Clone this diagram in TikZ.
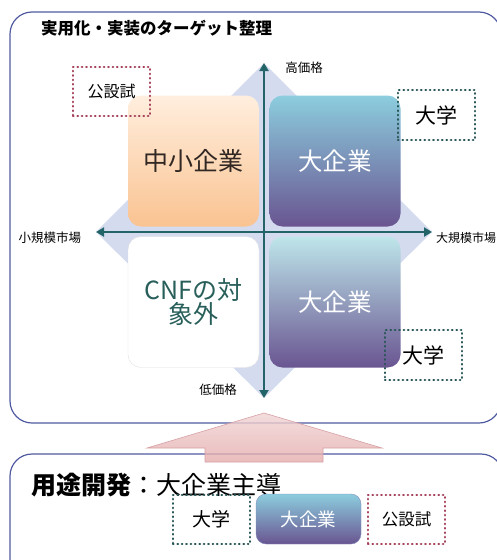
\documentclass[tikz,border=0pt]{standalone}
\usepackage{fontspec}
\setmainfont{Noto Sans CJK JP}
\usetikzlibrary{arrows.meta}
\definecolor{frameC}{RGB}{80,90,160}
\definecolor{axC}{RGB}{35,100,105}
\definecolor{dotR}{RGB}{165,65,90}
\definecolor{dotT}{RGB}{40,85,85}
\definecolor{peachT}{RGB}{255,238,222}
\definecolor{peachB}{RGB}{250,195,145}
\definecolor{purT}{RGB}{140,205,222}
\definecolor{purB}{RGB}{105,85,145}
\definecolor{pur2T}{RGB}{190,230,234}
\definecolor{diaC}{RGB}{212,219,239}
\definecolor{cnfC}{RGB}{40,95,90}
\definecolor{textD}{RGB}{50,40,35}
\definecolor{pinkT}{RGB}{240,212,212}
\definecolor{pinkB}{RGB}{230,172,172}
\definecolor{pinkE}{RGB}{215,160,165}
\tikzset{
 frame/.style={draw=frameC, line width=1.2pt, rounded corners=22pt},
 quad/.style={rounded corners=13pt, minimum width=131pt, minimum height=131pt, inner sep=0pt, align=center},
 axis/.style={draw=axC, line width=2pt, {Triangle[width=9pt,length=8pt]}-{Triangle[width=9pt,length=8pt]}},
 dotbox/.style={line width=2.2pt, dash pattern=on 0.6pt off 3.8pt, line cap=round, minimum width=77pt, minimum height=49pt, inner sep=0pt},
 lbl/.style={font=\fontsize{12.5}{14}\selectfont, text=black, inner sep=0pt},
}
\begin{document}
\begin{tikzpicture}[x=1pt,y=-1pt]
\useasboundingbox (0,0) rectangle (497,560);
\clip (0,0) rectangle (497,560);
% frames
\draw[frame] (10,12) rectangle (501,423);
\draw[frame] (10,454) rectangle (503,590);
% big arrow
\coordinate (atip) at (264,413);
\path[draw=pinkE, line width=0.6pt, top color=pinkT, bottom color=pinkB, fill opacity=0.8]
  (atip) -- (382,448) -- (323,448) -- (323,462) -- (205,462) -- (205,448) -- (147,448) -- cycle;
% diamond
\coordinate (dT) at (264,63);
\coordinate (dR) at (432,232);
\coordinate (dB) at (264,398);
\coordinate (dL) at (96,232);
\fill[diaC] (dT) -- (dR) -- (dB) -- (dL) -- cycle;
% quadrants
\node[quad, top color=peachT, bottom color=peachB, font=\fontsize{25}{28}\selectfont, text=textD] (tl) at (193.5,161) {中小企業};
\node[quad, top color=purT, bottom color=purB, font=\fontsize{24.5}{28}\selectfont, text=white] (tr) at (335,161) {大企業};
\node[quad, fill=white, draw=black!12, font=\fontsize{25}{23}\selectfont, text=cnfC] (bl) at (193.5,302) {CNFの対\\象外};
\node[quad, top color=pur2T, bottom color=purB, font=\fontsize{24.5}{28}\selectfont, text=white] (br) at (335,302) {大企業};
% axes
\draw[axis] (dB) -- (dT);
\draw[axis] (dL) -- (dR);
% axis labels
\node[lbl] (hi) at (304,68) {高価格};
\node[lbl] (lo) at (218,390) {低価格};
\node[lbl] (sm) at (50,238) {小規模市場};
\node[lbl, anchor=west, font=\fontsize{12}{14}\selectfont] (lg) at (436,238) {大規模市場};
% title
\node[anchor=west, inner sep=0pt, font=\bfseries\fontsize{16.5}{18}\selectfont] (title) at (41,28) {実用化・実装のターゲット整理};
% dotted boxes top area
\node[dotbox, draw=dotR, font=\fontsize{16}{18}\selectfont] (kos1) at (111.5,91.5) {公設試};
\node[dotbox, draw=dotT, minimum height=50pt, font=\fontsize{21}{24}\selectfont] (dai1) at (436.5,115) {大学};
\node[dotbox, draw=dotT, minimum height=50pt, font=\fontsize{21}{24}\selectfont] (dai2) at (423.5,355) {大学};
% bottom frame
\node[anchor=west, inner sep=0pt, font=\fontsize{25}{28}\selectfont] (use) at (31,485) {\textbf{用途開発}：大企業主導};
\node[dotbox, draw=dotT, font=\fontsize{19}{22}\selectfont] (dai3) at (211.5,519.5) {大学};
\node[rounded corners=10pt, minimum width=105pt, minimum height=50pt, inner sep=0pt, draw=frameC!70, top color=purT, bottom color=purB, text=white, font=\fontsize{18.5}{20}\selectfont] (corp) at (308.5,519) {大企業};
\node[dotbox, draw=dotR, font=\fontsize{16.5}{18}\selectfont] (kos2) at (406.5,519.5) {公設試};
\end{tikzpicture}
\end{document}
